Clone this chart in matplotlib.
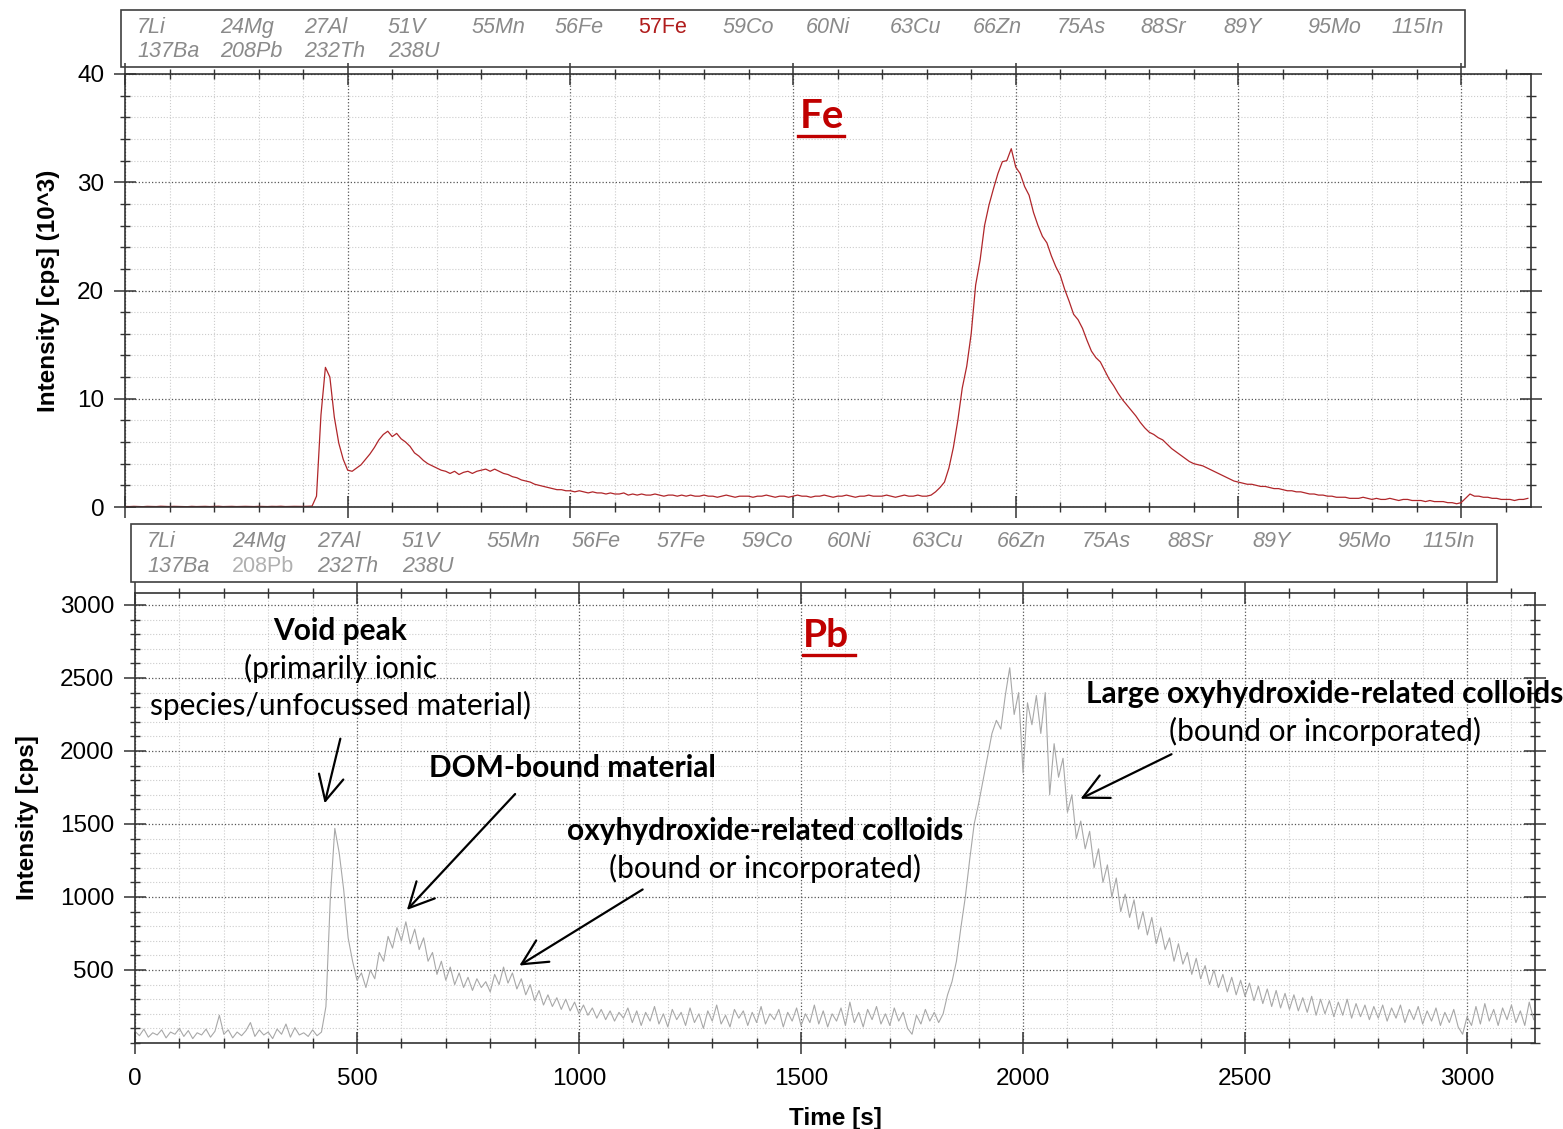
import numpy as np
import matplotlib.pyplot as plt
from matplotlib.ticker import MultipleLocator, NullFormatter
from matplotlib.patches import Rectangle
from matplotlib.lines import Line2D

# 측정 시간 (10 s 간격)
time_s = np.arange(0, 3160, 10)

# 57Fe 신호 [10^3 cps]
fe57 = [
    0.05, 0.04, 0.06, 0.05, 0.03, 0.06, 0.05, 0.04, 0.07, 0.05,
    0.04, 0.06, 0.05, 0.05, 0.03, 0.06, 0.04, 0.05, 0.06, 0.04,
    0.05, 0.07, 0.04, 0.05, 0.06, 0.04, 0.05, 0.06, 0.05, 0.04,
    0.06, 0.05, 0.04, 0.06, 0.05, 0.07, 0.04, 0.05, 0.06, 0.05,
    0.05, 0.06, 0.08, 1.0, 8.5, 12.9, 12.0, 8.3, 5.9, 4.4,
    3.4, 3.3, 3.6, 3.9, 4.4, 4.9, 5.5, 6.2, 6.7, 7.0,
    6.5, 6.8, 6.3, 6.0, 5.6, 5.0, 4.7, 4.3, 4.0, 3.8,
    3.6, 3.4, 3.3, 3.1, 3.3, 3.0, 3.2, 3.3, 3.1, 3.3,
    3.4, 3.5, 3.3, 3.5, 3.3, 3.1, 3.0, 2.8, 2.7, 2.5,
    2.4, 2.3, 2.1, 2.0, 1.9, 1.8, 1.7, 1.6, 1.6, 1.5,
    1.5, 1.4, 1.5, 1.4, 1.3, 1.4, 1.3, 1.3, 1.2, 1.3,
    1.2, 1.2, 1.3, 1.1, 1.2, 1.1, 1.2, 1.1, 1.1, 1.2,
    1.1, 1.0, 1.1, 1.1, 1.0, 1.1, 1.0, 1.1, 1.0, 1.0,
    1.1, 1.0, 1.0, 0.9, 1.0, 1.1, 1.0, 0.9, 1.0, 1.0,
    1.0, 0.9, 1.0, 1.0, 1.1, 1.0, 0.9, 1.0, 1.0, 0.9,
    1.0, 1.1, 1.0, 1.0, 0.9, 1.0, 1.0, 1.1, 1.0, 0.9,
    1.0, 1.0, 1.1, 1.0, 0.9, 1.0, 1.0, 1.1, 1.0, 1.0,
    1.0, 1.1, 1.0, 0.9, 1.0, 1.1, 1.0, 1.0, 1.1, 1.0,
    1.0, 1.1, 1.4, 1.8, 2.3, 3.6, 5.5, 8.0, 11.0, 13.0,
    16.0, 20.5, 22.8, 26.0, 27.9, 29.4, 30.8, 31.9, 32.0, 33.1,
    31.4, 30.8, 29.6, 28.8, 27.2, 26.0, 25.0, 24.4, 23.2, 22.2,
    21.4, 20.1, 19.0, 17.8, 17.3, 16.5, 15.4, 14.4, 13.8, 13.4,
    12.6, 11.8, 11.2, 10.5, 9.9, 9.4, 8.9, 8.4, 7.8, 7.3,
    6.9, 6.7, 6.4, 6.2, 5.8, 5.4, 5.1, 4.8, 4.5, 4.2,
    4.0, 3.9, 3.8, 3.6, 3.4, 3.2, 3.0, 2.8, 2.6, 2.4,
    2.3, 2.2, 2.1, 2.1, 2.0, 1.9, 1.9, 1.8, 1.7, 1.7,
    1.6, 1.5, 1.5, 1.4, 1.4, 1.3, 1.2, 1.2, 1.1, 1.1,
    1.0, 1.0, 0.9, 0.9, 0.9, 0.8, 0.8, 0.8, 0.9, 0.8,
    0.7, 0.8, 0.7, 0.7, 0.8, 0.7, 0.6, 0.7, 0.7, 0.6,
    0.6, 0.6, 0.5, 0.6, 0.5, 0.5, 0.5, 0.4, 0.4, 0.3,
    0.4, 0.8, 1.2, 1.0, 1.0, 0.9, 0.9, 0.8, 0.8, 0.7,
    0.7, 0.7, 0.6, 0.7, 0.7, 0.8,
]

# 208Pb 신호 [cps]
pb208 = [
    80, 50, 95, 40, 70, 55, 90, 35, 75, 60,
    100, 45, 85, 30, 70, 55, 95, 40, 80, 190,
    60, 90, 35, 75, 50, 85, 140, 45, 90, 55,
    75, 30, 95, 60, 130, 40, 105, 55, 70, 45,
    90, 50, 75, 250, 1000, 1470, 1300, 1050, 720, 560,
    430, 480, 380, 500, 440, 620, 560, 730, 650, 790,
    700, 830, 680, 780, 640, 720, 560, 620, 470, 560,
    430, 520, 400, 480, 380, 450, 360, 440, 380, 420,
    350, 470, 400, 520, 410, 480, 370, 440, 330, 400,
    290, 360, 260, 330, 250, 310, 230, 300, 220, 280,
    200, 260, 190, 240, 170, 230, 160, 220, 150, 210,
    170, 240, 140, 220, 120, 210, 150, 250, 130, 200,
    110, 230, 160, 210, 120, 240, 140, 200, 100, 220,
    150, 260, 130, 190, 110, 230, 170, 220, 120, 210,
    140, 250, 130, 200, 160, 230, 110, 210, 150, 240,
    120, 200, 140, 260, 130, 220, 110, 200, 150, 240,
    120, 280, 140, 210, 110, 230, 160, 250, 130, 200,
    120, 240, 150, 210, 100, 60, 190, 130, 230, 150,
    210, 140, 200, 330, 420, 560, 790, 1000, 1260, 1500,
    1640, 1800, 1960, 2120, 2210, 2150, 2380, 2570, 2250, 2400,
    1850, 2330, 2180, 2380, 2120, 2400, 1700, 2050, 1820, 1950,
    1580, 1700, 1400, 1520, 1330, 1450, 1200, 1330, 1100, 1220,
    1000, 1130, 900, 1020, 860, 980, 780, 900, 740, 860,
    680, 790, 640, 720, 560, 680, 540, 620, 470, 580,
    440, 530, 400, 500, 380, 470, 350, 450, 330, 430,
    320, 410, 290, 390, 270, 370, 250, 360, 240, 340,
    230, 330, 220, 310, 210, 320, 190, 300, 200, 290,
    180, 280, 190, 300, 170, 270, 180, 260, 160, 250,
    170, 260, 150, 240, 170, 260, 140, 230, 160, 250,
    130, 220, 150, 240, 120, 210, 140, 230, 110, 60,
    180, 120, 250, 130, 270, 150, 230, 120, 240, 160,
    260, 140, 220, 120, 280, 160,
]

isotopes_row1 = ['7Li', '24Mg', '27Al', '51V', '55Mn', '56Fe', '57Fe', '59Co',
                 '60Ni', '63Cu', '66Zn', '75As', '88Sr', '89Y', '95Mo', '115In']
isotopes_row2 = ['137Ba', '208Pb', '232Th', '238U']

W, H = 1563, 1129
fig = plt.figure(figsize=(W / 100, H / 100), dpi=100)


def fx(px):
    return px / W


def fy(py):
    return 1 - py / H


tick_font = 'Liberation Sans'
note_font = 'Lato'


def style_axes(ax, ymajor, yminor):
    ax.xaxis.set_major_locator(MultipleLocator(500))
    ax.xaxis.set_minor_locator(MultipleLocator(100))
    ax.yaxis.set_major_locator(MultipleLocator(ymajor))
    ax.yaxis.set_minor_locator(MultipleLocator(yminor))
    ax.grid(which='major', linestyle=':', color='#555555', linewidth=0.9)
    ax.grid(which='minor', linestyle=':', color='#cccccc', linewidth=0.8)
    ax.tick_params(which='major', direction='inout', length=16, width=1.1,
                   labelsize=17.5, pad=7, top=True, right=True, color='#333333')
    ax.tick_params(which='minor', direction='inout', length=7, width=1.0,
                   top=True, right=True, color='#333333')
    for s in ax.spines.values():
        s.set_color('#333333')
        s.set_linewidth(1.2)


# ---- 위쪽 패널 (Fe)
ax1 = fig.add_axes([fx(125), fy(507), fx(1531 - 125), (507 - 74) / H])
ax1.plot(time_s, fe57, color='#b0262a', linewidth=0.9)
ax1.set_xlim(0, 3157)
ax1.set_ylim(0, 40)
style_axes(ax1, 10, 2)
ax1.xaxis.set_major_formatter(NullFormatter())
ax1.set_ylabel('Intensity [cps] (10^3)', fontsize=17.5, fontweight='bold',
               family=tick_font, labelpad=12)
for lab in ax1.get_yticklabels():
    lab.set_fontfamily(tick_font)

# ---- 아래쪽 패널 (Pb)
ax2 = fig.add_axes([fx(135), fy(1043), fx(1400), 450 / H])
ax2.plot(time_s, pb208, color='#a8a8a8', linewidth=0.8)
ax2.set_xlim(0, 3153)
ax2.set_ylim(0, 3082)
style_axes(ax2, 500, 100)
ax2.tick_params(axis='x', which='major', pad=10)
ax2.set_yticks([500, 1000, 1500, 2000, 2500, 3000])
ax2.set_xlabel('Time [s]', fontsize=17.5, fontweight='bold', family=tick_font, labelpad=12)
ax2.set_ylabel('Intensity [cps]', fontsize=17.5, fontweight='bold', family=tick_font, labelpad=15)
for lab in ax2.get_xticklabels() + ax2.get_yticklabels():
    lab.set_fontfamily(tick_font)


# ---- 동위원소 범례 박스
def isotope_box(left, top, right, bottom, x0, step, ytop, ybot, hilite, hcolor):
    fig.add_artist(Rectangle((fx(left), fy(bottom)), fx(right - left), (bottom - top) / H,
                             transform=fig.transFigure, fill=False,
                             edgecolor='#404040', linewidth=1.2))
    for row, yy in [(isotopes_row1, ytop), (isotopes_row2, ybot)]:
        for i, name in enumerate(row):
            c = '#8a8a8a'
            st = 'italic'
            if name == hilite:
                c = hcolor
                st = 'normal'
            fig.text(fx(x0 + i * step), fy(yy), name, ha='left', va='center',
                     fontsize=15.5, color=c, style=st, family=tick_font)


isotope_box(121, 10, 1465, 67, 137, 83.6, 27.5, 51.5, '57Fe', '#b01c1c')
isotope_box(131, 524, 1497, 582, 147, 85.0, 541.5, 566.5, '208Pb', '#b0b0b0')

# ---- 원소 제목 (밑줄)
fig.text(fx(800), fy(128), 'Fe', ha='left', va='baseline', fontsize=29,
         fontweight='bold', color='#c00000', family=note_font)
fig.add_artist(Line2D([fx(798), fx(844)], [fy(135.5), fy(135.5)], color='#c00000', linewidth=2.4))
fig.text(fx(803), fy(647), 'Pb', ha='left', va='baseline', fontsize=28,
         fontweight='bold', color='#c00000', family=note_font)
fig.add_artist(Line2D([fx(803), fx(855)], [fy(654.5), fy(654.5)], color='#c00000', linewidth=2.4))


# ---- 주석
def note(x, y, s, bold=False):
    fig.text(fx(x), fy(y), s, ha='center', va='baseline', fontsize=21.5,
             fontweight='bold' if bold else 'normal', family=note_font, color='black')


def arrow(x0, y0, x1, y1):
    ax2.annotate('', xy=(fx(x1), fy(y1)), xytext=(fx(x0), fy(y0)),
                 xycoords='figure fraction', textcoords='figure fraction',
                 annotation_clip=False,
                 arrowprops=dict(arrowstyle='->,head_length=0.6,head_width=0.3',
                                 color='black', lw=1.6, mutation_scale=30))


note(340, 640, 'Void peak', bold=True)
note(340, 678, '(primarily ionic')
note(340, 715, 'species/unfocussed material)')
arrow(341, 736, 324, 806)

note(572, 777, 'DOM-bound material', bold=True)
arrow(517, 792, 405, 912)

note(765, 840, 'oxyhydroxide-related colloids', bold=True)
note(765, 878, '(bound or incorporated)')
arrow(645, 888, 517, 967)

note(1325, 703, 'Large oxyhydroxide-related colloids', bold=True)
note(1325, 741, '(bound or incorporated)')
arrow(1174, 753, 1078, 800)

fig.savefig('out.png', dpi=100)
